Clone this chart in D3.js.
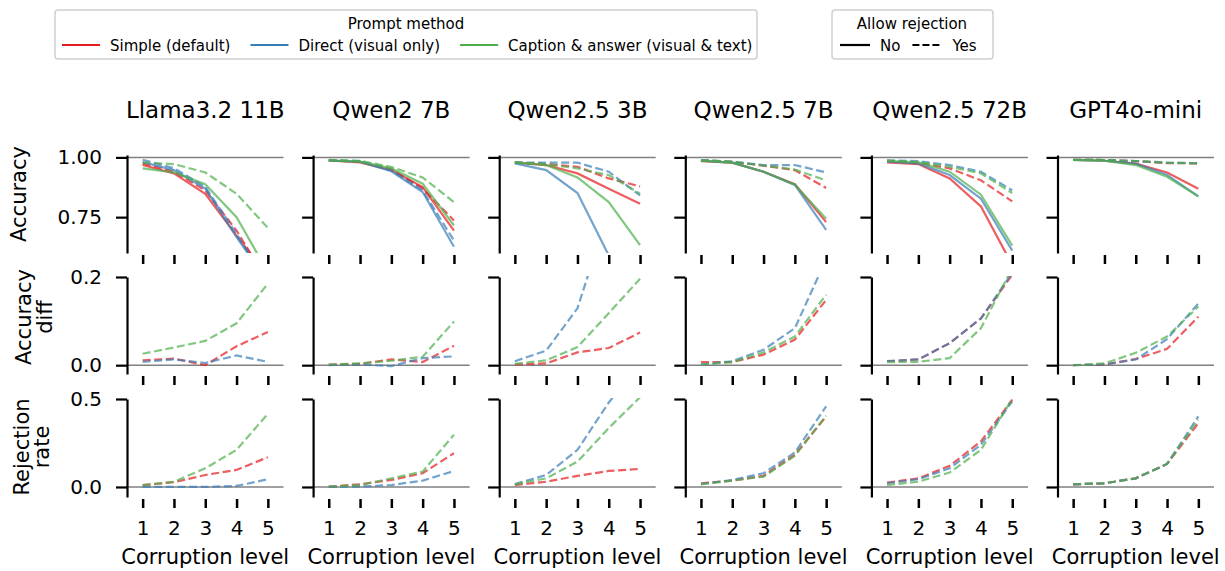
<!DOCTYPE html>
<html>
<head>
<meta charset="utf-8">
<script src="https://cdn.jsdelivr.net/npm/d3@7"></script>
<style>
    body { margin: 0; background: #fff; }
    text { font-family: "DejaVu Sans", sans-serif; }
</style>
</head>
<body>
<svg id="chart" width="1225" height="571"></svg>
<script>
//data, indexed [model][method][corruption level]
var models = ["Llama3.2 11B", "Qwen2 7B", "Qwen2.5 3B", "Qwen2.5 7B", "Qwen2.5 72B", "GPT4o-mini"];
var levels = [1, 2, 3, 4, 5];
var methods = ["Simple (default)", "Direct (visual only)", "Caption & answer (visual & text)"];
var methodColors = ["#e41a1c", "#377eb8", "#4daf4a"];

//accuracy, rejection not allowed (solid)
var accuracyNoReject = [
    [[0.968, 0.933, 0.848, 0.673, 0.50], [0.980, 0.947, 0.870, 0.666, 0.48], [0.954, 0.937, 0.888, 0.750, 0.52]],
    [[0.987, 0.979, 0.947, 0.876, 0.694], [0.987, 0.982, 0.942, 0.855, 0.626], [0.987, 0.982, 0.954, 0.890, 0.715]],
    [[0.978, 0.968, 0.933, 0.869, 0.806], [0.975, 0.947, 0.851, 0.590, 0.38], [0.979, 0.968, 0.916, 0.813, 0.633]],
    [[0.984, 0.978, 0.940, 0.888, 0.729], [0.986, 0.978, 0.940, 0.885, 0.697], [0.986, 0.978, 0.940, 0.886, 0.743]],
    [[0.979, 0.972, 0.912, 0.795, 0.55], [0.982, 0.975, 0.926, 0.827, 0.610], [0.985, 0.980, 0.940, 0.844, 0.631]],
    [[0.989, 0.986, 0.974, 0.937, 0.869], [0.989, 0.986, 0.974, 0.926, 0.837], [0.989, 0.986, 0.968, 0.919, 0.837]]
];

//accuracy, rejection allowed (dashed)
var accuracyReject = [
    [[0.975, 0.940, 0.862, 0.694, 0.48], [0.990, 0.955, 0.877, 0.680, 0.47], [0.978, 0.972, 0.937, 0.848, 0.705]],
    [[0.988, 0.982, 0.950, 0.870, 0.736], [0.988, 0.984, 0.945, 0.862, 0.652], [0.990, 0.986, 0.960, 0.916, 0.813]],
    [[0.978, 0.972, 0.961, 0.912, 0.879], [0.979, 0.978, 0.978, 0.940, 0.841], [0.979, 0.972, 0.954, 0.926, 0.848]],
    [[0.988, 0.981, 0.965, 0.947, 0.872], [0.989, 0.982, 0.968, 0.968, 0.937], [0.989, 0.982, 0.966, 0.949, 0.904]],
    [[0.986, 0.977, 0.954, 0.904, 0.816], [0.988, 0.984, 0.968, 0.940, 0.862], [0.987, 0.980, 0.961, 0.933, 0.851]],
    [[0.990, 0.989, 0.984, 0.976, 0.975], [0.990, 0.989, 0.985, 0.978, 0.976], [0.990, 0.989, 0.985, 0.978, 0.975]]
];

//accuracy difference (dashed)
var accuracyDiff = [
    [[0.011, 0.015, 0.000, 0.043, 0.075], [0.0075, 0.013, 0.005, 0.022, 0.0075], [0.026, 0.040, 0.055, 0.095, 0.185]],
    [[0.0015, 0.003, 0.013, 0.007, 0.044], [0.000, 0.0015, -0.002, 0.016, 0.020], [0.0015, 0.004, 0.010, 0.019, 0.099]],
    [[0.0015, 0.004, 0.029, 0.039, 0.074], [0.009, 0.033, 0.129, 0.35, 0.50], [0.003, 0.011, 0.041, 0.118, 0.196]],
    [[0.007, 0.007, 0.024, 0.058, 0.148], [0.0015, 0.009, 0.035, 0.084, 0.24], [0.0015, 0.007, 0.029, 0.065, 0.160]],
    [[0.009, 0.013, 0.050, 0.106, 0.205], [0.009, 0.013, 0.050, 0.106, 0.21], [0.007, 0.0075, 0.016, 0.084, 0.22]],
    [[0.000, 0.0015, 0.014, 0.037, 0.110], [0.000, 0.0015, 0.013, 0.059, 0.140], [0.000, 0.004, 0.028, 0.065, 0.133]]
];

//rejection rate (dashed)
var rejectionRate = [
    [[0.011, 0.027, 0.068, 0.097, 0.169], [0.000, 0.000, 0.000, 0.006, 0.044], [0.010, 0.030, 0.106, 0.211, 0.416]],
    [[0.002, 0.015, 0.040, 0.078, 0.192], [0.000, 0.002, 0.011, 0.036, 0.091], [0.002, 0.011, 0.049, 0.087, 0.297]],
    [[0.011, 0.030, 0.063, 0.091, 0.103], [0.017, 0.068, 0.211, 0.48, 0.70], [0.015, 0.049, 0.144, 0.335, 0.51]],
    [[0.021, 0.036, 0.063, 0.183, 0.401], [0.017, 0.040, 0.078, 0.196, 0.458], [0.015, 0.036, 0.059, 0.177, 0.405]],
    [[0.025, 0.049, 0.120, 0.259, 0.496], [0.021, 0.044, 0.106, 0.240, 0.487], [0.011, 0.030, 0.082, 0.211, 0.50]],
    [[0.015, 0.021, 0.049, 0.131, 0.363], [0.015, 0.021, 0.049, 0.131, 0.401], [0.015, 0.021, 0.049, 0.131, 0.382]]
];

var svg = d3.select("#chart");

//layout of the grid
var colLeft0 = 127,
    colStep = 186.1,
    plotW = 156.5;

var rows = [
    {label: ["Accuracy"], labelX: [26], labelY: 194, top: 155, bottom: 253, domain: [0.6, 1.01], ticks: [0.75, 1.0], fmt: ".2f", ref: 1,
        series: [{data: accuracyNoReject, dash: false}, {data: accuracyReject, dash: true}]},
    {label: ["Accuracy", "diff"], labelX: [31, 52], labelY: 317, top: 277, bottom: 374, domain: [-0.02, 0.2], ticks: [0, 0.2], fmt: ".1f", ref: 0,
        series: [{data: accuracyDiff, dash: true}]},
    {label: ["Rejection", "rate"], labelX: [29, 49], labelY: 447, top: 399, bottom: 497, domain: [-0.057, 0.5], ticks: [0, 0.5], fmt: ".1f", ref: 0,
        series: [{data: rejectionRate, dash: true}]}
];

var defs = svg.append("defs");

//titles
models.forEach(function (m, c) {
    svg.append("text")
        .attr("x", colLeft0 + c * colStep + plotW / 2)
        .attr("y", 118)
        .attr("text-anchor", "middle")
        .attr("font-size", 23)
        .text(m);
});

rows.forEach(function (row, r) {
    //row label on the left
    row.label.forEach(function (l, i) {
        svg.append("text")
            .attr("font-size", 21)
            .attr("text-anchor", "middle")
            .attr("transform", "translate(" + row.labelX[i] + "," + row.labelY + ") rotate(-90)")
            .text(l);
    });

    models.forEach(function (m, c) {
        var left = colLeft0 + c * colStep;
        var x = d3.scaleLinear().domain([0.5, 5.5]).range([left, left + plotW]);
        var y = d3.scaleLinear().domain(row.domain).range([row.bottom, row.top]);

        var clipId = "clip-" + r + "-" + c;
        defs.append("clipPath").attr("id", clipId)
            .append("rect")
            .attr("x", left).attr("y", row.top - 1)
            .attr("width", plotW).attr("height", row.bottom - row.top + 1);

        var panel = svg.append("g");

        //reference line
        panel.append("line")
            .attr("x1", x(0.5)).attr("x2", x(5.5))
            .attr("y1", y(row.ref)).attr("y2", y(row.ref))
            .attr("stroke", "#808080")
            .attr("stroke-width", 1.5);

        var lineGen = d3.line()
            .x(function (d, i) { return x(levels[i]); })
            .y(function (d) { return y(d); });

        var lines = panel.append("g").attr("clip-path", "url(#" + clipId + ")");
        methods.forEach(function (meth, k) {
            row.series.forEach(function (s) {
                lines.append("path")
                    .datum(s.data[c][k])
                    .attr("d", lineGen)
                    .attr("fill", "none")
                    .attr("stroke", methodColors[k])
                    .attr("stroke-opacity", 0.7)
                    .attr("stroke-width", 2.2)
                    .attr("stroke-dasharray", s.dash ? "8,3.6" : null);
            });
        });

        //left axis (spine + ticks)
        var yAxis = d3.axisLeft(y)
            .tickValues(row.ticks)
            .tickSize(11)
            .tickSizeOuter(0)
            .tickPadding(14)
            .tickFormat(c === 0 ? d3.format(row.fmt) : function () { return ""; });
        var ya = panel.append("g")
            .attr("transform", "translate(" + left + ",0)")
            .call(yAxis);
        ya.select(".domain").attr("stroke", "#000").attr("stroke-width", 2.2);
        ya.selectAll(".tick line").attr("stroke", "#000").attr("stroke-width", 2.2);
        ya.selectAll(".tick text").attr("font-size", 20).attr("fill", "#000")
            .attr("font-family", "DejaVu Sans, sans-serif");

        //bottom ticks (no spine)
        var xAxis = d3.axisBottom(x)
            .tickValues(levels)
            .tickSize(9)
            .tickSizeOuter(0)
            .tickPadding(12.8)
            .tickFormat(r === rows.length - 1 ? d3.format("d") : function () { return ""; });
        var xa = panel.append("g")
            .attr("transform", "translate(0," + (row.bottom + 2) + ")")
            .call(xAxis);
        xa.select(".domain").remove();
        xa.selectAll(".tick line").attr("stroke", "#000").attr("stroke-width", 2.5);
        xa.selectAll(".tick text").attr("font-size", 20).attr("fill", "#000")
            .attr("font-family", "DejaVu Sans, sans-serif");

        if (r === rows.length - 1) {
            svg.append("text")
                .attr("x", left + plotW / 2)
                .attr("y", 564)
                .attr("text-anchor", "middle")
                .attr("font-size", 21)
                .text("Corruption level");
        }
    });
});

//legends
function legendBox(x0, x1, title, titleX) {
    svg.append("rect")
        .attr("x", x0).attr("y", 10)
        .attr("width", x1 - x0).attr("height", 49)
        .attr("rx", 3)
        .attr("fill", "#fff")
        .attr("stroke", "#d0d0d0")
        .attr("stroke-width", 1.5);
    svg.append("text")
        .attr("x", titleX).attr("y", 29)
        .attr("text-anchor", "middle")
        .attr("font-size", 15)
        .text(title);
}

legendBox(55, 757, "Prompt method", 406);
var lx = 62;
methods.forEach(function (meth, k) {
    svg.append("line")
        .attr("x1", lx).attr("x2", lx + 38)
        .attr("y1", 45).attr("y2", 45)
        .attr("stroke", methodColors[k])
        .attr("stroke-width", 2.2);
    var t = svg.append("text")
        .attr("x", lx + 48).attr("y", 50.5)
        .attr("font-size", 15)
        .text(meth);
    lx = lx + 48 + t.node().getComputedTextLength() + 20;
});

legendBox(832, 993, "Allow rejection", 912);
var rejectLabels = ["No", "Yes"];
var rx = 840;
rejectLabels.forEach(function (lab, k) {
    svg.append("line")
        .attr("x1", rx).attr("x2", rx + 30)
        .attr("y1", 45).attr("y2", 45)
        .attr("stroke", "#000")
        .attr("stroke-width", 2.2)
        .attr("stroke-dasharray", k === 1 ? "7,3" : null);
    var t = svg.append("text")
        .attr("x", rx + 40).attr("y", 50.5)
        .attr("font-size", 15)
        .text(lab);
    rx = rx + 40 + t.node().getComputedTextLength() + 12;
});
</script>
</body>
</html>
